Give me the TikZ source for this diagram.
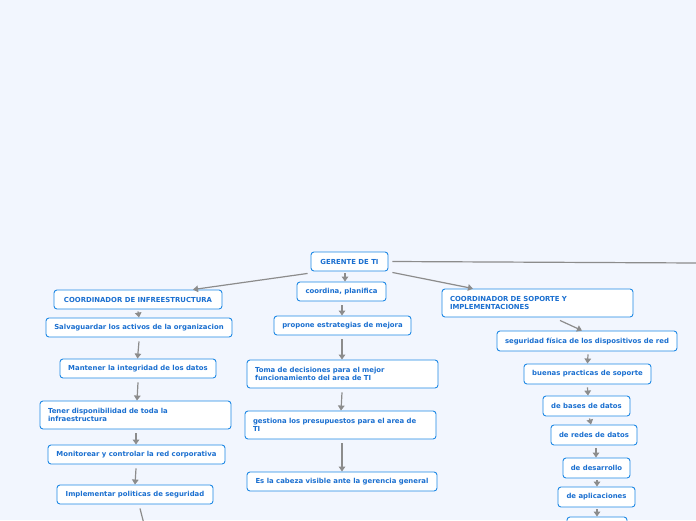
\documentclass[tikz,border=0pt]{standalone}
\usepackage{fontspec}
\newfontfamily\dvs{DejaVu Sans}
\usetikzlibrary{arrows.meta}
\definecolor{bgc}{HTML}{F2F6FE}
\definecolor{bordc}{HTML}{1E88E5}
\definecolor{textc}{HTML}{1A6FD0}
\definecolor{arrc}{HTML}{8C8C8C}
\begin{document}
\begin{tikzpicture}[x=1pt,y=-1pt,
  box/.style={draw=bordc, line width=0.9pt, rounded corners=3pt, fill=white,
    text=textc, font=\dvs\bfseries\fontsize{6.9}{8}\selectfont, inner sep=0pt, align=center},
  boxtwo/.style={box, align=left, inner xsep=8pt, inner ysep=0pt},
  arr/.style={draw=arrc, line width=1.2pt, -{Triangle[length=5pt,width=6.5pt]}},
  ln/.style={draw=arrc, line width=1.2pt}]
\fill[bgc] (0,0) rectangle (696,520);
\useasboundingbox (0,0) rectangle (696,520);
% top
\node[box, minimum width=77, minimum height=19] (ger) at (349.5,261.5) {GERENTE DE TI};
\coordinate (edge) at (698,263);
% left column
\node[box, minimum width=168, minimum height=19] (inf) at (138,299.5) {COORDINADOR DE INFREESTRUCTURA};
\node[box, minimum width=186, minimum height=19] (salv) at (139,327.5) {Salvaguardar los activos de la organizacion};
\node[box, minimum width=156, minimum height=19] (mant) at (138,368.5) {Mantener la integridad de los datos};
\node[boxtwo, text width=175, minimum height=28] (ten) at (135.5,415) {Tener disponibilidad de toda la\\infraestructura};
\node[box, minimum width=177, minimum height=19] (mon) at (136.5,454.5) {Monitorear y controlar la red corporativa};
\node[box, minimum width=156, minimum height=19] (imp) at (135,494.5) {Implementar politicas de seguridad};
\coordinate (offl) at (145,528);
% middle column
\node[box, minimum width=89, minimum height=19] (coo) at (341.5,291.5) {coordina, planifica};
\node[box, minimum width=137, minimum height=19] (pro) at (342.5,325.5) {propone estrategias de mejora};
\node[boxtwo, text width=175, minimum height=28] (tom) at (342.5,374) {Toma de decisiones para el mejor\\funcionamiento del area de TI};
\node[boxtwo, text width=175, minimum height=28] (ges) at (340.5,425) {gestiona los presupuestos para el area de\\TI};
\node[box, minimum width=190, minimum height=19] (cab) at (342,481.5) {Es la cabeza visible ante la gerencia general};
% right column
\node[boxtwo, text width=175, minimum height=28] (sop) at (537.5,303) {COORDINADOR DE SOPORTE Y\\IMPLEMENTACIONES};
\node[box, minimum width=180, minimum height=20] (seg) at (587,341) {seguridad física de los dispositivos de red};
\node[box, minimum width=127, minimum height=20] (bue) at (587.5,374) {buenas practicas de soporte};
\node[box, minimum width=87, minimum height=20] (bas) at (586.5,406) {de bases de datos};
\node[box, minimum width=86, minimum height=20] (red) at (594,435) {de redes de datos};
\node[box, minimum width=67, minimum height=20] (des) at (596.5,468) {de desarrollo};
\node[box, minimum width=77, minimum height=20] (apl) at (596.5,497) {de aplicaciones};
\node[box, minimum width=60, minimum height=20] (las) at (597,527) {};
% connectors from top
\draw[arr] ([xshift=-3pt,yshift=-2pt]ger.south west) -- ([xshift=55pt]inf.north);
\draw[arr] ([xshift=4pt,yshift=-1pt]ger.south east) -- ([xshift=-64.5pt]sop.north);
\draw[arr] ([xshift=-4.5pt,yshift=-2pt]ger.south) -- ([xshift=3.5pt]coo.north);
\draw[ln] ([xshift=4pt]ger.east) -- (edge);
% left
\draw[arr] ([yshift=-2pt]inf.south) -- (salv.north);
\draw[arr] ([yshift=-4pt]salv.south) -- ([xshift=-0.5pt]mant.north);
\draw[arr] ([yshift=-4pt]mant.south) -- ([xshift=1.5pt]ten.north);
\draw[arr] ([xshift=0.5pt,yshift=-4pt]ten.south) -- ([xshift=-0.5pt]mon.north);
\draw[arr] ([xshift=-0.5pt,yshift=-4pt]mon.south) -- (imp.north);
\draw[ln] ([xshift=5pt,yshift=-4pt]imp.south) -- (offl);
% middle
\draw[arr] ([xshift=0.5pt,yshift=-4pt]coo.south) -- ([xshift=-0.5pt]pro.north);
\draw[arr] ([xshift=-0.5pt,yshift=-4pt]pro.south) -- ([xshift=-0.5pt]tom.north);
\draw[arr] ([xshift=-0.5pt,yshift=-4pt]tom.south) -- ([xshift=0.5pt]ges.north);
\draw[arr] ([xshift=1.5pt,yshift=-4pt]ges.south) -- (cab.north);
% right
\draw[arr] ([xshift=22.5pt,yshift=-3pt]sop.south) -- ([xshift=-5pt]seg.north);
\draw[arr] ([xshift=1pt,yshift=-3pt]seg.south) -- (bue.north);
\draw[arr] ([yshift=-3pt]bue.south) -- ([xshift=1.5pt]bas.north);
\draw[arr] ([xshift=3pt,yshift=-2pt]bas.south) -- ([xshift=-3pt]red.north);
\draw[arr] ([xshift=2pt,yshift=-3pt]red.south) -- ([xshift=-0.5pt]des.north);
\draw[arr] ([xshift=0.5pt,yshift=-2pt]des.south) -- ([xshift=0.5pt]apl.north);
\draw[arr] ([xshift=0.5pt,yshift=-2pt]apl.south) -- (las.north);
\end{tikzpicture}
\end{document}
